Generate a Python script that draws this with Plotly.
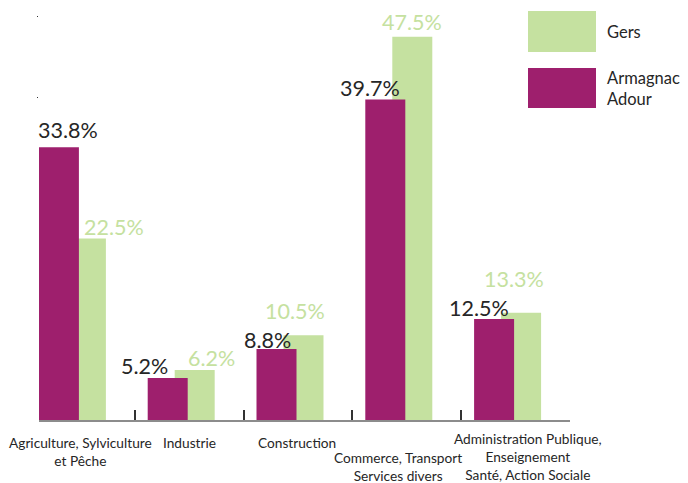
import plotly.graph_objects as go

categories = ["Agriculture, Sylviculture<br>et Pêche", "Industrie", "Construction",
              "Commerce, Transport<br>Services divers",
              "Administration Publique,<br>Enseignement<br>Santé, Action Sociale"]
armagnac = [33.8, 5.2, 8.8, 39.7, 12.5]
gers = [22.5, 6.2, 10.5, 47.5, 13.3]
armagnac_labels = ["33.8%", "5.2%", "8.8%", "39.7%", "12.5%"]
gers_labels = ["22.5%", "6.2%", "10.5%", "47.5%", "13.3%"]

# label placement offsets (pixels), styling only
arm_dx = [9.5, -23, -9.5, -15, -15.5]
arm_dy = [17, 12, 9, 12, 11]
gers_dx = [28.5, 16.5, -8, 0, -7]
gers_dy = [11, 12, 24, 15, 34]
cat_dx = [0, 0, -1, -9, 12]
cat_dy = [-12, -12, -12, -27, -8]

PURPLE = "#9e1f6d"
GREEN = "#c5e1a0"
DARK = "#262626"
W = 0.3676
OFF_P = -0.3814
OFF_G = -0.1333

x = list(range(len(categories)))
fig = go.Figure()
fig.add_trace(go.Bar(x=x, y=gers, width=W, offset=OFF_G, marker=dict(color=GREEN, line=dict(width=0)),
                     opacity=1, name="Gers", hoverinfo="skip"))
fig.add_trace(go.Bar(x=x, y=armagnac, width=W, offset=OFF_P, marker=dict(color=PURPLE, line=dict(width=0)),
                     opacity=1, name="Armagnac Adour", hoverinfo="skip"))

ann = []
for i in x:
    ann.append(dict(x=i + OFF_P + W / 2, y=armagnac[i], xref="x", yref="y", text=armagnac_labels[i],
                    showarrow=False, xanchor="center", yanchor="middle", xshift=arm_dx[i], yshift=arm_dy[i],
                    font=dict(family="Lato", size=21.5, color=DARK)))
    ann.append(dict(x=i + OFF_G + W / 2, y=gers[i], xref="x", yref="y", text=gers_labels[i],
                    showarrow=False, xanchor="center", yanchor="middle", xshift=gers_dx[i], yshift=gers_dy[i],
                    font=dict(family="Lato", size=21.5, color=GREEN)))
    ann.append(dict(x=i, y=0, xref="x", yref="y", text=categories[i], showarrow=False,
                    xanchor="center", yanchor="top", xshift=cat_dx[i], yshift=cat_dy[i],
                    font=dict(family="Lato", size=13.7, color=DARK)))

def px(v):
    return (v - 39) / 531.0

def py(v):
    return (420 - v) / 410.0

shapes = [
    dict(type="rect", xref="paper", yref="paper", x0=px(528), x1=px(596), y0=py(52), y1=py(11),
         fillcolor=GREEN, line=dict(width=0)),
    dict(type="rect", xref="paper", yref="paper", x0=px(528), x1=px(596), y0=py(108), y1=py(68),
         fillcolor=PURPLE, line=dict(width=0)),
]
ann.append(dict(x=px(605), y=py(32), xref="paper", yref="paper", text="Gers", showarrow=False,
                xanchor="left", yanchor="middle", align="left", font=dict(family="Lato", size=16.5, color=DARK)))
ann.append(dict(x=px(605), y=py(89), xref="paper", yref="paper", text="Armagnac<br>Adour", showarrow=False,
                xanchor="left", yanchor="middle", align="left", font=dict(family="Lato", size=16.5, color=DARK)))

fig.update_layout(
    width=688, height=483, margin=dict(l=39, r=118, t=10, b=63),
    paper_bgcolor="white", plot_bgcolor="white", barmode="overlay", showlegend=False,
    annotations=ann, shapes=shapes,
    xaxis=dict(range=[-0.3805, 4.5], tickvals=[0.5, 1.5, 2.5, 3.5, 4.5], ticks="inside", ticklen=10,
               tickwidth=1.5, tickcolor="#333333", showticklabels=False, showline=True,
               linecolor="#8c8c8c", linewidth=2, showgrid=False, zeroline=False),
    yaxis=dict(range=[0, 50.8], tickvals=[40, 50], ticks="outside", ticklen=1, tickwidth=1,
               tickcolor="#333333", showticklabels=False, showline=False, showgrid=False, zeroline=False),
)
fig.write_html("out.html", config={"displayModeBar": False},
               post_script="document.body.style.margin='0';document.body.style.overflow='hidden';")
